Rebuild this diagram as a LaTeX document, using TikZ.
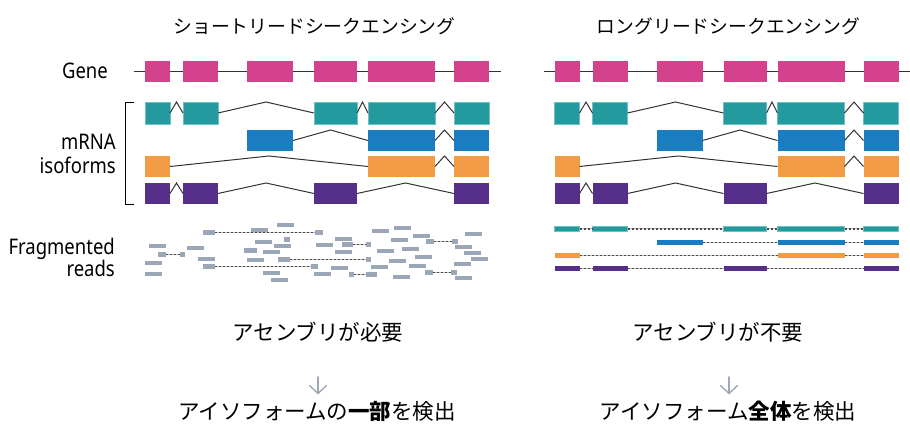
\documentclass[tikz,border=0pt]{standalone}
\usepackage{fontspec}
\setmainfont{Noto Sans}
\newfontfamily\jp{Noto Sans CJK JP}
\newfontfamily\lab[FakeStretch=0.86]{Noto Sans}
\usetikzlibrary{calc,arrows.meta}
\definecolor{genec}{HTML}{D4418D}
\definecolor{tealc}{HTML}{229A9E}
\definecolor{tealb}{HTML}{6CC3C3}
\definecolor{bluec}{HTML}{1B7DC1}
\definecolor{orangec}{HTML}{F29B45}
\definecolor{purplec}{HTML}{552F8A}
\definecolor{readc}{HTML}{9BA6B7}
\definecolor{arrc}{HTML}{9FA9BA}
\definecolor{linec}{HTML}{333333}
\definecolor{dotc}{HTML}{4A4A4A}
\tikzset{
  exon/.style={inner sep=0pt,outer sep=0pt,anchor=north west,draw=none},
  genebox/.style={fill=genec},
  tealbox/.style={fill=tealc,draw=tealb,line width=0.9pt},
  bluebox/.style={fill=bluec},
  orangebox/.style={fill=orangec},
  purplebox/.style={fill=purplec},
  readbox/.style={fill=readc},
  gline/.style={draw=linec,line width=1pt},
  intron/.style={draw=linec,line width=1pt},
  bracket/.style={draw=black,line width=1pt},
  dotline/.style={draw=dotc,line width=1.3pt,dash pattern=on 2pt off 2pt},
  dotbase/.style={draw=black!25,line width=1.3pt},
  longdot/.style={draw=dotc,line width=1.6pt,dash pattern=on 2pt off 2pt},
  labtxt/.style={inner sep=0pt,font=\lab\fontsize{21.5}{24}\selectfont,text=black},
  ttl/.style={inner sep=0pt,font=\jp\fontsize{18.8}{22}\selectfont,text=black},
  btm/.style={inner sep=0pt,font=\jp\fontsize{21.5}{26}\selectfont,text=black},
  arr/.style={draw=arrc,line width=1.4pt,line cap=round,line join=round},
}
\newcommand\ex[6]{\node[exon,#6,minimum width={(#3)-(#2)},minimum height={#5}] (#1) at (#2,#4) {};}
\newcommand\intr[2]{\path (#1.east) -- (#2.west) coordinate[midway] (#1#2m);
  \draw[intron] (#1.east) -- (#1#2m |- #1.north) -- (#2.west);}
\newcommand\panel[1]{%
  % gene
  \coordinate (#1gl) at (134,71); \coordinate (#1gr) at (500.5,71);
  \draw[gline] (#1gl) -- (#1gr);
  \ex{#1g1}{145}{170}{61}{21}{genebox}
  \ex{#1g2}{183}{218}{61}{21}{genebox}
  \ex{#1g3}{247}{293}{61}{21}{genebox}
  \ex{#1g4}{314}{357}{61}{21}{genebox}
  \ex{#1g5}{368}{435}{61}{21}{genebox}
  \ex{#1g6}{454}{489}{61}{21}{genebox}
  % teal isoform
  \ex{#1ta}{145}{170}{102}{22}{tealbox}
  \ex{#1tb}{183}{218}{102}{22}{tealbox}
  \ex{#1tc}{314}{357}{102}{22}{tealbox}
  \ex{#1td}{368}{435}{102}{22}{tealbox}
  \ex{#1te}{454}{489}{102}{22}{tealbox}
  \intr{#1ta}{#1tb}\intr{#1tb}{#1tc}\intr{#1tc}{#1td}\intr{#1td}{#1te}
  % blue isoform
  \ex{#1ba}{247}{293}{130}{21}{bluebox}
  \ex{#1bb}{368}{435}{130}{21}{bluebox}
  \ex{#1bc}{454}{489}{130}{21}{bluebox}
  \intr{#1ba}{#1bb}\intr{#1bb}{#1bc}
  % orange isoform
  \ex{#1oa}{145}{170}{156}{21}{orangebox}
  \ex{#1ob}{368}{435}{156}{21}{orangebox}
  \ex{#1oc}{454}{489}{156}{21}{orangebox}
  \intr{#1oa}{#1ob}\intr{#1ob}{#1oc}
  % purple isoform
  \ex{#1pa}{145}{170}{183}{21}{purplebox}
  \ex{#1pb}{183}{218}{183}{21}{purplebox}
  \ex{#1pc}{314}{357}{183}{21}{purplebox}
  \ex{#1pd}{454}{489}{183}{21}{purplebox}
  \intr{#1pa}{#1pb}\intr{#1pb}{#1pc}\intr{#1pc}{#1pd}
}
\begin{document}
\begin{tikzpicture}[x=1pt,y=-1pt]
\useasboundingbox[fill=white] (0,0) rectangle (910,423);
% titles
\node[ttl] (t1) at (314.5,26) {ショートリードシークエンシング};
\node[ttl] (t2) at (728.5,26) {ロングリードシークエンシング};
% row labels
\node[labtxt,anchor=base east] (lgene) at (108,78.3) {Gene};
\node[labtxt,anchor=base east] (lmrna) at (116,149.3) {mRNA};
\node[labtxt,anchor=base east] (liso) at (116,173.3) {isoforms};
\node[labtxt,anchor=base east] (lfrag) at (115,254.3) {Fragmented};
\node[labtxt,anchor=base east] (lreads) at (115,276.7) {reads};
% bracket
\coordinate (bk1) at (134,102); \coordinate (bk2) at (125,102);
\coordinate (bk3) at (125,204); \coordinate (bk4) at (134,204);
\draw[bracket] (bk1) -- (bk2) -- (bk3) -- (bk4);
% left panel
\panel{L}
% right panel
\begin{scope}[xshift=409.5pt]
\panel{R}
% long reads
\ex{Rrt1}{145}{170}{226}{5.5}{tealbox,line width=0.6pt}
\ex{Rrt2}{183}{218}{226}{5.5}{tealbox,line width=0.6pt}
\ex{Rrt3}{314}{357}{226}{5.5}{tealbox,line width=0.6pt}
\ex{Rrt4}{368}{435}{226}{5.5}{tealbox,line width=0.6pt}
\ex{Rrt5}{454}{489}{226}{5.5}{tealbox,line width=0.6pt}
\ex{Rrb1}{247}{293}{240}{5}{bluebox}
\ex{Rrb2}{368}{435}{240}{5}{bluebox}
\ex{Rrb3}{454}{489}{240}{5}{bluebox}
\ex{Rro1}{145}{170}{253}{5}{orangebox}
\ex{Rro2}{368}{435}{253}{5}{orangebox}
\ex{Rro3}{454}{489}{253}{5}{orangebox}
\ex{Rrp1}{145}{170}{266}{5}{purplebox}
\ex{Rrp2}{183}{218}{266}{5}{purplebox}
\ex{Rrp3}{314}{357}{266}{5}{purplebox}
\ex{Rrp4}{454}{489}{266}{5}{purplebox}
\foreach \a/\b in {Rrt1/Rrt2,Rrt2/Rrt3,Rrt3/Rrt4,Rrt4/Rrt5,Rrb1/Rrb2,Rrb2/Rrb3,Rro1/Rro2,Rro2/Rro3,Rrp1/Rrp2,Rrp2/Rrp3,Rrp3/Rrp4}{
  \draw[dotbase] (\a.east) -- (\b.west);
  \draw[longdot] (\a.east) -- (\b.west);
}
\end{scope}
% short reads (left)
\foreach \a/\b/\c/\h in {
 251/268/228/4, 277/294/223/4, 149/166/244/4, 187/204/246/4, 145/162/261/4,
 145/162/272/4, 198/215/257/4, 255/272/240/4, 284/290/237/5, 274/291/244/4,
 244/257/248/5, 263/280/250/4, 247/264/258/4, 263/280/271/4, 271/288/278/4,
 316/333/243/4, 314/331/272/4, 335/352/237/4, 335/352/250/4, 372/389/229/4,
 394/411/226/4, 391/408/238/4, 413/430/234/4, 377/394/249/4, 402/419/247/4,
 415/432/255/4, 389/406/259/4, 409/426/264/4, 371/388/265/4, 331/348/266/4,
 393/410/275/4, 465/482/232/4, 455/472/245/4, 464/481/251/4, 471/488/257/4,
 454/471/262/4, 455/472/276/4}
 {\fill[readbox] (\a,\c) rectangle (\b,\c+\h);}
% split reads (left)
\foreach \a/\b/\c/\d/\y [count=\i] in {
 158/166/180/185/252, 203/215/315/323/230, 203/215/311/318/264,
 278/290/366/371/257, 342/353/366/371/242, 349/354/366/377/272,
 426/434/452/458/239, 425/433/451/457/270}
{
  \node[exon,readbox,minimum width={\b-\a},minimum height=5] (sa\i) at (\a,\y) {};
  \node[exon,readbox,minimum width={\d-\c},minimum height=5] (sb\i) at (\c,\y) {};
  \draw[dotbase,line width=1.2pt] (sa\i.east) -- (sb\i.west);
  \draw[dotline] (sa\i.east) -- (sb\i.west);
}
% bottom texts
\node[btm] (n1) at (318,332) {アセンブリが必要};
\node[btm] (n2) at (718,332) {アセンブリが不要};
\node[btm] (d1) at (317,411) {アイソフォームの{\bfseries 一部}を検出};
\node[btm] (d2) at (728,411) {アイソフォーム{\bfseries 全体}を検出};
\coordinate (a1s) at (318,377); \coordinate (a1e) at (318,393.5);
\coordinate (a2s) at (729,377); \coordinate (a2e) at (729,393.5);
\draw[arr] (a1s) -- (a1e);
\draw[arr] ($(a1e)+(-8.5,-8)$) -- (a1e) -- ($(a1e)+(8.5,-8)$);
\draw[arr] (a2s) -- (a2e);
\draw[arr] ($(a2e)+(-8.5,-8)$) -- (a2e) -- ($(a2e)+(8.5,-8)$);
\end{tikzpicture}
\end{document}
